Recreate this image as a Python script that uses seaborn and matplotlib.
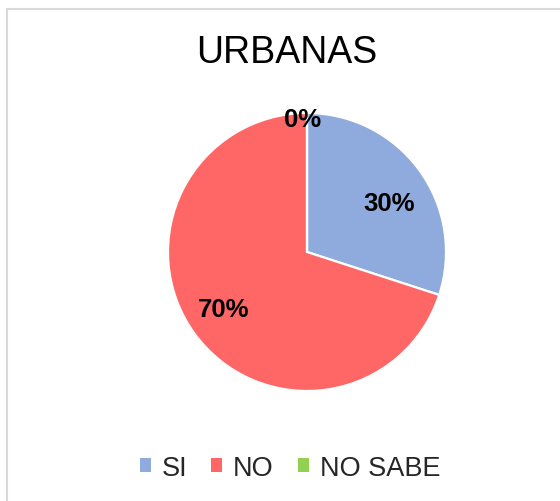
import matplotlib
matplotlib.use("Agg")
import matplotlib.pyplot as plt
from matplotlib.patches import Rectangle, Patch
import numpy as np
import seaborn as sns

# ── Data ──────────────────────────────────────────────────────────────────────
categories = ["SI", "NO", "NO SABE"]
values = [30, 70, 0]
colors = ["#8FAADC", "#FF6666", "#92D050"]
title = "URBANAS"

# label placement (fraction of radius, pixel nudge)
label_dist = [0.71, 0.74, 0.95]
label_nudge = [(2, -9), (0, 3), (-4, 1)]

sns.set_style("white")
plt.rcParams["font.family"] = ["Liberation Sans", "DejaVu Sans"]

W, H = 560, 502
fig = plt.figure(figsize=(W / 100, H / 100), dpi=100)
ax = fig.add_axes([0, 0, 1, 1])

# chart frame
ax.add_patch(Rectangle((7, -10), W, H, fill=False,
                       edgecolor="#D9D9D9", linewidth=1.5))

cx, cy, r = 307, H - 253, 139
wedges, _ = ax.pie(values, colors=colors, startangle=90, counterclock=False,
                   center=(cx, cy), radius=r, frame=True,
                   wedgeprops=dict(edgecolor="white", linewidth=1.6))
ax.set_xlim(0, W)
ax.set_ylim(0, H)
ax.axis("off")

# percentage labels
for w, v, d, (nx, ny) in zip(wedges, values, label_dist, label_nudge):
    ang = np.deg2rad((w.theta1 + w.theta2) / 2)
    ax.text(cx + d * r * np.cos(ang) + nx, cy + d * r * np.sin(ang) + ny,
            f"{v}%", ha="center", va="center", fontsize=18.5, fontweight="bold",
            color="black")

ax.text(287, H - 53, title, ha="center", va="center", fontsize=27, color="black")

handles = [Patch(facecolor=c, edgecolor="none") for c in colors]
fig.legend(handles, categories, loc="center", bbox_to_anchor=(290 / W, 1 - 469 / H),
           ncol=3, frameon=False, fontsize=19.5, handlelength=0.4, handleheight=0.4,
           handletextpad=0.4, columnspacing=0.9)

fig.savefig("out.png", dpi=100)
